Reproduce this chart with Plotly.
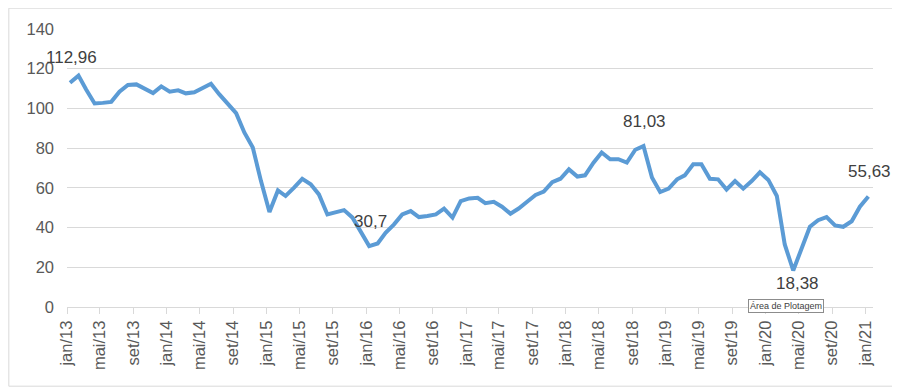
import plotly.graph_objects as go
import pandas as pd

# Monthly values, jan/2013 .. jan/2021
values = [
    112.96, 116.5, 109.5, 102.5, 102.8, 103.3, 108.4, 111.8, 112.1, 109.7, 107.7, 111.1,   # 2013
    108.4, 109.1, 107.6, 108.1, 110.1, 112.4, 107.2, 102.5, 97.6, 87.9, 80.3, 63.4,        # 2014
    47.8, 58.7, 55.9, 60.1, 64.5, 61.8, 56.7, 46.6, 47.6, 48.8, 45.0, 38.2,                # 2015
    30.7, 32.0, 37.4, 41.6, 46.6, 48.3, 45.3, 45.8, 46.6, 49.5, 45.0, 53.3,                # 2016
    54.7, 55.0, 52.3, 53.0, 50.5, 47.0, 49.6, 53.0, 56.4, 58.1, 62.9, 64.6,                # 2017
    69.3, 65.7, 66.3, 72.7, 77.8, 74.4, 74.4, 72.7, 79.2, 81.03, 65.2, 57.9,               # 2018
    59.6, 64.3, 66.3, 71.9, 71.9, 64.6, 64.3, 59.2, 63.4, 59.6, 63.4, 67.8,                # 2019
    64.0, 55.9, 31.5, 18.38, 29.8, 40.4, 43.7, 45.3, 41.1, 40.4, 43.2, 50.5,               # 2020
    55.63,                                                                                  # 2021
]
months = pd.date_range("2013-01-01", periods=len(values), freq="MS") + pd.Timedelta(days=11)

month_abbr = ["jan", "fev", "mar", "abr", "mai", "jun", "jul", "ago", "set", "out", "nov", "dez"]
tick_dates = pd.date_range("2013-01-01", "2021-01-01", freq="4MS")
tick_labels = [f"{month_abbr[d.month - 1]}/{d.strftime('%y')}" for d in tick_dates]

# Labelled points: (index, position)
labelled = [(0, "above"), (36, "above"), (69, "above"), (87, "below"), (96, "above")]

def fmt(v):
    s = f"{v:.2f}".rstrip("0").rstrip(".")
    return s.replace(".", ",")

FONT = "Liberation Sans, Arial, sans-serif"

fig = go.Figure()
fig.add_trace(go.Scatter(
    x=months, y=values, mode="lines",
    line=dict(color="#5B9BD5", width=4),
    hoverinfo="x+y",
))

annotations = []
for idx, pos in labelled:
    annotations.append(dict(
        x=months[idx], y=values[idx], xref="x", yref="y",
        text=fmt(values[idx]), showarrow=False,
        font=dict(family=FONT, size=17, color="#404040"),
        yshift=25 if pos == "above" else -13,
        xshift=4 if pos == "below" else 1,
    ))
annotations.append(dict(
    x=0.8918, y=0.0047, xref="paper", yref="paper",
    xanchor="center", yanchor="middle",
    text="Área de Plotagem", showarrow=False,
    font=dict(family=FONT, size=9, color="#404040"),
    bgcolor="white", bordercolor="#8c8c8c", borderwidth=1, borderpad=1,
))

fig.update_layout(
    width=892, height=382,
    margin=dict(l=58.7, r=26.7, t=21.3, b=82.7),
    paper_bgcolor="white", plot_bgcolor="white",
    showlegend=False,
    font=dict(family=FONT, size=16.5, color="#595959"),
    annotations=annotations,
    xaxis=dict(
        type="date",
        range=["2013-01-01", "2021-01-29"],
        tickmode="array", tickvals=tick_dates, ticktext=tick_labels,
        tickangle=-90, ticks="outside", ticklen=6, tickcolor="#d9d9d9",
        showline=True, linecolor="#d9d9d9", linewidth=1,
        showgrid=False, zeroline=False,
        tickfont=dict(family=FONT, size=16.5, color="#595959"),
    ),
    yaxis=dict(
        range=[0, 140], dtick=20, tick0=0,
        showgrid=True, gridcolor="#d9d9d9", gridwidth=1,
        zeroline=False, showline=False, ticks="",
        ticklabelstandoff=12,
        tickfont=dict(family=FONT, size=16.5, color="#595959"),
    ),
    shapes=[dict(
        type="rect", xref="paper", yref="paper",
        x0=(0.5 - 58.7) / 806.6, x1=(888.5 - 58.7) / 806.6,
        y0=(299.3 - 378.5) / 278, y1=(299.3 - 0.5) / 278,
        line=dict(color="#d9d9d9", width=1), fillcolor="rgba(0,0,0,0)",
        layer="below",
    )],
)

fig.write_html("out.html")
